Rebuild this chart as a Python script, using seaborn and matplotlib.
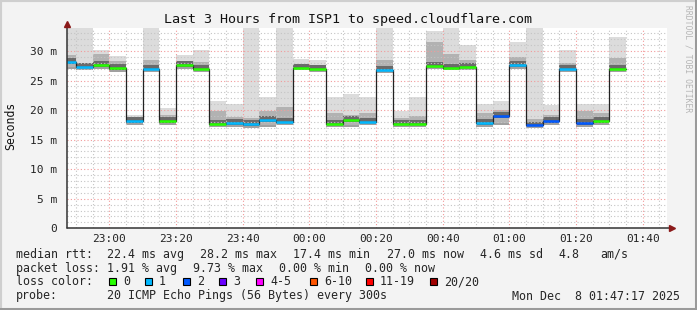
import datetime as dt
import matplotlib
matplotlib.use("Agg")
import matplotlib.pyplot as plt
import matplotlib.dates as mdates
from matplotlib.ticker import MultipleLocator, FuncFormatter
from matplotlib.patches import Rectangle
import pandas as pd
import seaborn as sns

# ---------------- data ----------------
title = "Last 3 Hours from ISP1 to speed.cloudflare.com"
first_bar = dt.datetime(2025, 12, 7, 22, 45)
step_minutes = 5
view_start = dt.datetime(2025, 12, 7, 22, 47, 17)
view_end = dt.datetime(2025, 12, 8, 1, 47, 17)

median_ms = [28.2, 27.3, 27.6, 27.2, 18.1, 27.0, 18.1, 27.6, 27.0, 17.7,
             17.8, 17.6, 18.3, 18.0, 27.2, 26.9, 17.7, 18.3, 18.0, 26.8,
             17.6, 17.7, 27.5, 27.2, 27.3, 17.8, 19.0, 27.6, 17.4, 18.1,
             26.9, 17.8, 18.1, 27.0]
smoke_low_ms = [27.1, 26.9, 27.1, 26.7, 17.7, 26.7, 17.7, 27.2, 26.6, 17.3,
                17.4, 17.2, 17.4, 17.6, 26.9, 26.6, 17.4, 17.3, 17.6, 26.5,
                17.3, 17.4, 27.1, 26.9, 26.9, 17.3, 17.6, 27.1, 17.2, 17.7,
                26.6, 17.3, 17.6, 26.6]
smoke_inner_ms = [29.3, 28.0, 29.5, 28.3, 18.8, 28.5, 19.2, 28.3, 28.2, 19.8,
                  18.8, 18.6, 19.8, 20.6, 27.8, 27.5, 19.5, 19.2, 19.5, 28.5,
                  18.6, 19.0, 31.5, 29.5, 28.5, 19.5, 20.0, 29.0, 18.5, 19.2,
                  28.0, 19.8, 19.5, 28.8]
smoke_high_ms = [36.0, 36.0, 30.1, 29.2, 19.2, 36.0, 20.3, 29.4, 30.2, 21.5,
                 21.0, 36.0, 22.2, 36.0, 28.7, 28.5, 22.2, 22.8, 22.2, 36.0,
                 19.9, 22.2, 33.4, 36.0, 31.0, 21.1, 21.5, 31.5, 36.0, 20.8,
                 30.2, 21.0, 21.1, 32.3]
loss_count = [1, 1, 0, 0, 1, 1, 0, 0, 0, 0,
              1, 1, 1, 1, 0, 0, 0, 0, 1, 1,
              0, 0, 0, 0, 0, 1, 2, 1, 2, 2,
              1, 2, 0, 0]

loss_labels = ["0", "1", "2", "3", "4-5", "6-10", "11-19", "20/20"]
loss_palette = ["#26ff00", "#00b8ff", "#0059ff", "#6a00ff",
                "#ff00ff", "#ff5500", "#ff0000", "#a00000"]

stats_rtt = ["22.4 ms avg", "28.2 ms max", "17.4 ms min", "27.0 ms now",
             "4.6 ms sd", "4.8", "am/s"]
stats_loss = ["1.91 % avg", "9.73 % max", "0.00 % min", "0.00 % now"]
probe_text = "20 ICMP Echo Pings (56 Bytes) every 300s"
stamp_text = "Mon Dec  8 01:47:17 2025"

# ---------------- style ----------------
sns.set_style("white")
plt.rcParams["font.family"] = ["DejaVu Sans Mono", "DejaVu Sans"]
MONO = "DejaVu Sans Mono"

W, H = 697, 310
fig = plt.figure(figsize=(W / 100, H / 100), dpi=100, facecolor="#f3f3f3")


def fx(x):
    return x / W


def fy(y):
    return 1 - y / H


# border shading
fig.patches.append(Rectangle((0, 0), 1, 1, transform=fig.transFigure, fill=False,
                             edgecolor="#cfcfcf", lw=3))
fig.patches.append(Rectangle((fx(695), 0), fx(2), 1, transform=fig.transFigure,
                             facecolor="#9a9a9a", edgecolor="none"))
fig.patches.append(Rectangle((0, 0), 1, fy(308), transform=fig.transFigure,
                             facecolor="#9a9a9a", edgecolor="none"))

ax_l, ax_r, ax_t, ax_b = 67, 667, 27.7, 228.3
ax = fig.add_axes([fx(ax_l), fy(ax_b), fx(ax_r - ax_l), (ax_b - ax_t) / H])
ax.set_facecolor("white")

step = dt.timedelta(minutes=step_minutes)
starts = [first_bar + i * step for i in range(len(median_ms))]
x0 = mdates.date2num(starts)
x1 = mdates.date2num([s + step for s in starts])
width = x1[0] - x0[0]

df = pd.DataFrame({"start": x0, "end": x1, "median": median_ms,
                   "low": smoke_low_ms, "inner": smoke_inner_ms,
                   "high": smoke_high_ms, "loss": loss_count})


def loss_color(n):
    if n <= 3:
        return loss_palette[n]
    if n <= 5:
        return loss_palette[4]
    if n <= 10:
        return loss_palette[5]
    if n <= 19:
        return loss_palette[6]
    return loss_palette[7]


# smoke
ax.bar(df["start"], df["high"] - df["low"], bottom=df["low"], width=width,
       align="edge", color="#dcdcdc", lw=0, zorder=1)
ax.bar(df["start"], df["inner"] - df["low"], bottom=df["low"], width=width,
       align="edge", color="#b2b2b2", lw=0, zorder=1.1)
ax.bar(df["start"], 1.0, bottom=df["median"] - 0.35, width=width,
       align="edge", color="#6a6a6a", lw=0, zorder=1.2)
ax.bar(df["start"], 0.35, bottom=df["low"] - 0.2, width=width,
       align="edge", color="#a0a0a0", lw=0, zorder=1.2)

# median step line
step_df = pd.DataFrame({"t": list(df["start"]) + [df["end"].iloc[-1]],
                        "m": list(df["median"]) + [df["median"].iloc[-1]]})
sns.lineplot(data=step_df, x="t", y="m", drawstyle="steps-post", color="#222222",
             lw=0.9, estimator=None, sort=False, ax=ax, zorder=3)
ax.hlines(df["median"], df["start"], df["end"],
          colors=[loss_color(n) for n in df["loss"]], lw=1.8, zorder=4)

# axes limits & grid
ax.set_xlim(mdates.date2num(view_start), mdates.date2num(view_end))
ax.set_ylim(0, 33.94)
ax.xaxis.set_major_locator(mdates.MinuteLocator(byminute=[0, 20, 40]))
ax.xaxis.set_minor_locator(mdates.MinuteLocator(byminute=range(0, 60, 5)))
ax.xaxis.set_major_formatter(mdates.DateFormatter("%H:%M"))
ax.yaxis.set_major_locator(MultipleLocator(5))
ax.yaxis.set_minor_locator(MultipleLocator(1))
ax.yaxis.set_major_formatter(FuncFormatter(lambda v, p: "0" if v == 0 else f"{int(v)} m"))

ax.set_axisbelow(False)
dots = (0, (1, 2))
ax.grid(which="minor", color="#c4c4c4", lw=0.8, linestyle=dots)
ax.grid(which="major", color="#f29a9a", lw=0.8, linestyle=dots)

for s in ax.spines.values():
    s.set_visible(False)
ax.tick_params(axis="both", which="both", length=0)
ax.tick_params(axis="x", labelsize=8, pad=4, colors="#222222")
ax.tick_params(axis="y", labelsize=8, pad=7, colors="#222222")
for lab in ax.get_xticklabels() + ax.get_yticklabels():
    lab.set_fontfamily(MONO)

# axis lines with arrows
ax.plot([0, 0], [0, 1.01], transform=ax.transAxes, color="#333333", lw=1.1,
        clip_on=False, zorder=5)
ax.plot([0, 1.005], [0, 0], transform=ax.transAxes, color="#333333", lw=1.1,
        clip_on=False, zorder=5)
ax.plot(0, 1.018, marker="^", ms=4.5, color="#8b1a1a", transform=ax.transAxes,
        clip_on=False, zorder=6)
ax.plot(1.008, 0, marker=">", ms=4.5, color="#8b1a1a", transform=ax.transAxes,
        clip_on=False, zorder=6)

ax.set_xlabel("")
ax.set_ylabel("")

# texts
fig.text(0.5, fy(19), title, ha="center", va="center", fontsize=9.6,
         family=MONO, color="#111111")
fig.text(fx(11), fy(126), "Seconds", rotation=90, ha="center", va="center",
         fontsize=8.3, family=MONO, color="#111111")
fig.text(fx(688), fy(5), "RRDTOOL / TOBI OETIKER", rotation=270, ha="center",
         va="top", fontsize=5.8, family=MONO, color="#b5b5b5")

FS = 8.4
rows = [254.3, 268.3, 281.8, 296]
fig.text(fx(16), fy(rows[0]), "median rtt:", fontsize=FS, family=MONO, va="center")
for xp, t in zip([107, 200, 293, 387, 480, 558, 600], stats_rtt):
    fig.text(fx(xp), fy(rows[0]), t, fontsize=FS, family=MONO, va="center")
fig.text(fx(16), fy(rows[1]), "packet loss:", fontsize=FS, family=MONO, va="center")
for xp, t in zip([107, 193, 279, 365], stats_loss):
    fig.text(fx(xp), fy(rows[1]), t, fontsize=FS, family=MONO, va="center")
fig.text(fx(16), fy(rows[2]), "loss color:", fontsize=FS, family=MONO, va="center")
box_x = [109, 145, 183, 219, 256, 310, 366, 430]
for bx, lab, col in zip(box_x, loss_labels, loss_palette):
    fig.patches.append(Rectangle((fx(bx), fy(rows[2] + 3.6)), fx(7), 7.2 / H,
                                 transform=fig.transFigure, facecolor=col,
                                 edgecolor="black", lw=0.8))
    fig.text(fx(bx + 14), fy(rows[2]), lab, fontsize=FS, family=MONO, va="center")
fig.text(fx(16), fy(rows[3]), "probe:", fontsize=FS, family=MONO, va="center")
fig.text(fx(107), fy(rows[3]), probe_text, fontsize=FS, family=MONO, va="center")
fig.text(fx(680), fy(rows[3]), stamp_text, fontsize=FS, family=MONO, va="center",
         ha="right")

fig.savefig("out.png", dpi=100, facecolor=fig.get_facecolor())
